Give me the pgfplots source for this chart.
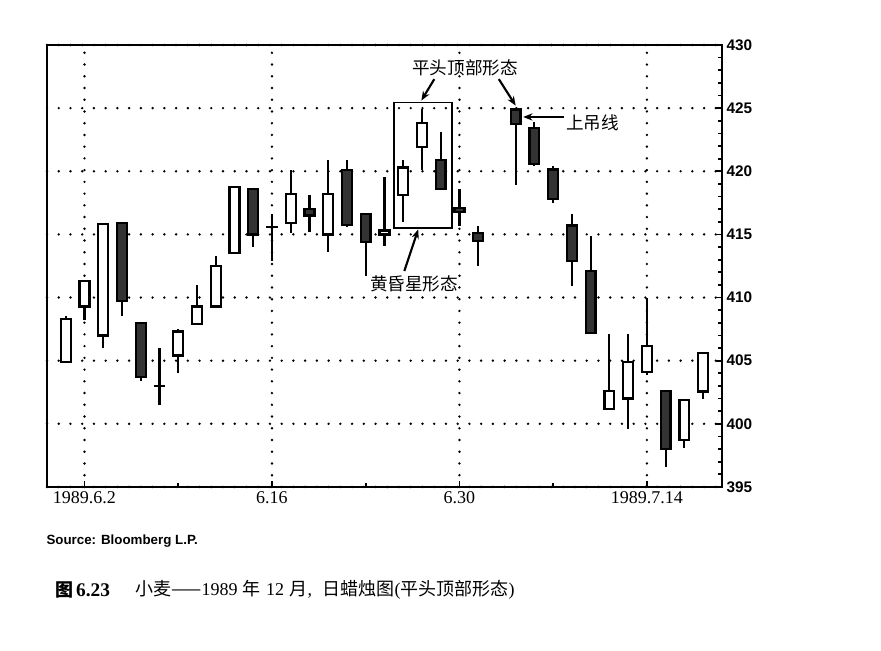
\documentclass[border=0pt]{standalone}
\usepackage{fontspec}
\setmainfont{Liberation Serif}
\setsansfont{Liberation Sans}
\newfontfamily\cjk{Noto Sans CJK SC}
\usepackage{pgfplots}
\usepackage{pgfplotstable}
\pgfplotsset{compat=1.18}
\usetikzlibrary{arrows.meta}

% daily wheat candles: slot (trading day from 6.2), open, high, low, close
\pgfplotstableread{
k   open    high    low     close
-1  404.9   408.5   404.9   408.3
0   409.3   411.4   408.2   411.3
1   407.0   415.9   406.0   415.8
2   415.9   416.0   408.5   409.7
3   408.0   408.1   403.4   403.7
4   403.0   406.0   401.5   403.0
5   405.4   407.5   404.0   407.3
6   407.9   411.0   407.9   409.3
7   409.3   413.3   409.3   412.5
8   413.5   418.8   413.5   418.75
9   418.6   418.6   414.0   415.0
10  415.6   416.6   412.9   415.6
11  415.9   420.1   415.1   418.2
12  417.0   418.1   415.2   416.5
13  415.0   420.9   413.6   418.2
14  420.1   420.9   415.6   415.75
15  416.6   416.6   411.7   414.4
16  415.0   419.55  414.1   415.3
17  418.1   420.9   416.0   420.3
18  421.9   424.9   420.1   423.8
19  420.9   423.1   418.5   418.6
20  417.1   418.6   415.7   416.8
21  415.1   415.7   412.5   414.5
23  424.9   424.95  418.9   423.75
24  423.4   423.9   420.4   420.6
25  420.15  420.4   417.5   417.8
26  415.7   416.6   410.9   412.9
27  412.1   414.9   407.1   407.2
28  401.2   407.1   401.2   402.6
29  402.0   407.1   399.6   404.9
30  404.1   410.0   403.9   406.15
31  402.6   402.6   396.6   398.0
32  398.7   402.0   398.1   401.9
33  402.55  405.7   402.0   405.6
}\wheat

\def\yu{9.47}
\pgfdeclareplotmark{nothing}{}

\begin{document}
\begin{tikzpicture}
\useasboundingbox (-35.25pt,-122.25pt) rectangle (625.5pt,365.25pt);
\begin{axis}[
    at={(0pt,0pt)}, anchor=south west,
    disabledatascaling,
    x=14.06pt, y=\yu pt,
    xmin=-2, xmax=34, ymin=395, ymax=430,
    clip=false,
    axis line style={line width=1.6pt},
    xtick={0,10,20,30},
    xticklabels={1989.6.2,6.16,6.30,1989.7.14},
    minor xtick={5,15,25},
    ytick={395,400,...,430},
    minor y tick num=4,
    xtick pos=left,
    ytick pos=right, yticklabel pos=right,
    major tick length=4.5pt, minor tick length=3pt,
    every tick/.style={black, line width=1.3pt},
    xticklabel style={font=\fontsize{13.5}{16}\selectfont},
    yticklabel style={font=\sffamily\bfseries\fontsize{11.5}{13}\selectfont},
    /pgf/number format/assume math mode=true,
    xmajorgrids, ymajorgrids,
    major grid style={black, line width=2pt, line cap=round, dash pattern=on 0pt off 8.8pt},
]
\addplot[scatter, only marks, mark=nothing,
    visualization depends on={\thisrow{open} \as \cO},
    visualization depends on={\thisrow{high} \as \cH},
    visualization depends on={\thisrow{low} \as \cL},
    visualization depends on={\thisrow{close} \as \cC},
    scatter/@pre marker code/.code={%
        \pgfmathsetmacro\cBot{(min(\cO,\cC)-\cL)*\yu}%
        \pgfmathsetmacro\cTop{(max(\cO,\cC)-\cL)*\yu}%
        \pgfmathsetmacro\cHi{(\cH-\cL)*\yu}%
        \pgfmathsetmacro\cDiff{abs(\cC-\cO)}%
        \draw[black, line width=1.6pt] (0pt,0pt) -- (0pt,\cHi pt);
        \ifdim\cDiff pt<0.05pt
            \draw[black, line width=1.7pt] (-4.3pt,\cBot pt) -- (4.3pt,\cBot pt);
        \else
            \ifdim\cC pt>\cO pt
                \draw[black, line width=1.7pt, fill=white] (-3.7pt,\cBot pt) rectangle (3.7pt,\cTop pt);
            \else
                \draw[black, line width=1.7pt, fill=black!80] (-3.7pt,\cBot pt) rectangle (3.7pt,\cTop pt);
            \fi
        \fi
        \begingroup},
    scatter/@post marker code/.code={\endgroup},
] table[x=k, y=low] {\wheat};

% annotations
\draw[black, line width=1.4pt] (axis cs:16.5,415.5) rectangle (axis cs:19.6,425.45);
\node[font=\cjk\fontsize{13.2}{15}\selectfont] at (axis cs:20.3,428.2) {平头顶部形态};
\draw[black, line width=1.6pt, -{Stealth[length=7pt,width=5.5pt]}] (axis cs:18.66,427.3) -- (axis cs:17.97,425.6);
\draw[black, line width=1.6pt, -{Stealth[length=7pt,width=5.5pt]}] (axis cs:22.1,427.3) -- (axis cs:23.0,425.2);
\node[font=\cjk\fontsize{13.2}{15}\selectfont] at (axis cs:27.1,423.8) {上吊线};
\draw[black, line width=1.6pt, -{Stealth[length=7pt,width=5.5pt]}] (axis cs:25.6,424.3) -- (axis cs:23.4,424.3);
\node[font=\cjk\fontsize{13.2}{15}\selectfont] at (axis cs:17.58,411.07) {黄昏星形态};
\draw[black, line width=1.6pt, -{Stealth[length=7pt,width=5.5pt]}] (axis cs:17.06,412.1) -- (axis cs:17.8,415.4);

\node[anchor=west, inner sep=0pt, font=\sffamily\bfseries\fontsize{10}{12}\selectfont] at (axis cs:-2.04,390.7) {Source: Bloomberg L.P.};
\node[anchor=west, inner sep=0pt, font=\fontsize{13.5}{16}\selectfont] at (axis cs:-1.56,386.84) {{\cjk\bfseries 图}\hspace{2pt}{\bfseries\fontsize{14.5}{16}\selectfont 6.23}};
\node[anchor=west, inner sep=0pt, font=\fontsize{13.5}{16}\selectfont] at (axis cs:2.7,386.84) {{\cjk 小麦——}1989\hspace{4pt}{\cjk 年}\hspace{4pt}12\hspace{4pt}{\cjk 月},\hspace{8pt}{\cjk 日蜡烛图}({\cjk 平头顶部形态})};
\end{axis}
\end{tikzpicture}
\end{document}
